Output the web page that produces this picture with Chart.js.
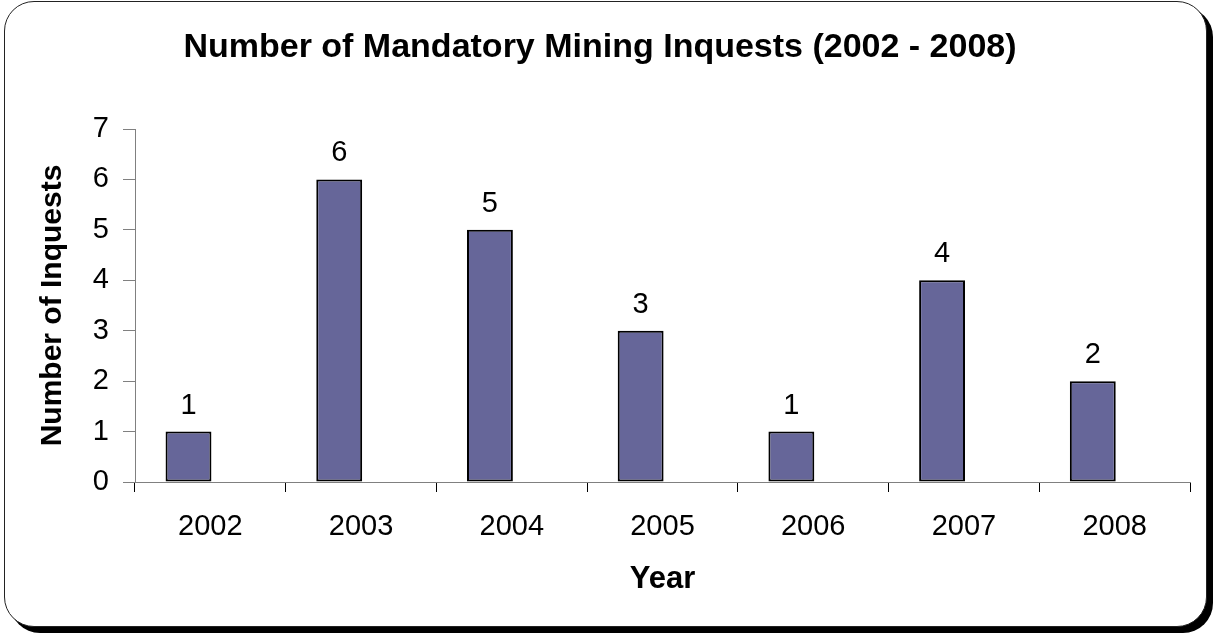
<!DOCTYPE html>
<html>
<head>
<meta charset="utf-8">
<script src="https://cdn.jsdelivr.net/npm/chart.js@4"></script>
<style>
  html, body { margin: 0; padding: 0; background: #fff; }
  #marco {
    position: absolute; left: 4px; top: 1px;
    width: 1201px; height: 624px;
    border: 1.5px solid #222; border-radius: 30px;
    box-shadow: 6px 6px 0 #000; background: #fff;
  }
  #caja { position: absolute; left: 0; top: 0; width: 1215px; height: 634px; }
</style>
</head>
<body>
<div id="marco"></div>
<div id="caja"><canvas id="grafica"></canvas></div>
<script>
// datos
const anios = ["2002", "2003", "2004", "2005", "2006", "2007", "2008"];
const inquests = [1, 6, 5, 3, 1, 4, 2];
const serieVacia = [null, null, null, null, null, null, null]; // hueco a la derecha de cada barra, como en Excel
const ticksY = [0, 1, 2, 3, 4, 5, 6, 7];

const fuente = "'Liberation Sans', Arial, sans-serif";

// numeros encima de cada barra
const etiquetas = {
  id: "etiquetas",
  afterDatasetsDraw(chart) {
    const ctx = chart.ctx;
    const meta = chart.getDatasetMeta(0);
    ctx.save();
    ctx.font = "29px " + fuente;
    ctx.fillStyle = "#000";
    ctx.textAlign = "center";
    ctx.textBaseline = "alphabetic";
    meta.data.forEach((barra, i) => {
      ctx.fillText(String(inquests[i]), barra.x, barra.y - 18);
    });
    ctx.restore();
  },
};

const ctx = document.getElementById("grafica").getContext("2d");
new Chart(ctx, {
  type: "bar",
  data: {
    labels: anios,
    datasets: [
      {
        data: inquests,
        backgroundColor: "#666699",
        borderColor: "#000",
        borderWidth: 2,
        borderSkipped: false,
        barPercentage: 1.05,
        categoryPercentage: 0.58,
      },
      {
        data: serieVacia,
        backgroundColor: "#993366",
        borderWidth: 0,
        barPercentage: 1.05,
        categoryPercentage: 0.58,
      },
    ],
  },
  options: {
    responsive: true,
    maintainAspectRatio: false,
    animation: false,
    layout: { padding: { left: 10, right: 25, top: 8, bottom: 10 } },
    plugins: {
      legend: { display: false },
      tooltip: { enabled: false },
      title: {
        display: true,
        text: "Number of Mandatory Mining Inquests (2002 - 2008)",
        color: "#000",
        font: { family: fuente, size: 34, weight: "bold" },
        padding: { top: 19.6, bottom: 60.6 },
      },
    },
    scales: {
      x: {
        offset: true,
        grid: { drawOnChartArea: false, drawTicks: true, tickLength: 10, color: "#000", offset: true },
        border: { color: "#808080", width: 1 },
        ticks: { color: "#000", padding: 18, font: { family: fuente, size: 29 } },
        title: {
          display: true,
          text: "Year",
          color: "#000",
          font: { family: fuente, size: 31, weight: "bold" },
          padding: { top: 0, bottom: 26 },
        },
        afterFit(scale) { scale.height = 634 - 482 - 10; },
      },
      y: {
        min: 0,
        max: 7,
        afterBuildTicks(scale) { scale.ticks = ticksY.map((v) => ({ value: v })); },
        grid: { drawOnChartArea: false, drawTicks: true, tickLength: 12, color: "#808080" },
        border: { color: "#808080", width: 1 },
        ticks: { color: "#000", padding: 14, font: { family: fuente, size: 29 } },
        title: {
          display: true,
          text: "Number of Inquests",
          color: "#000",
          font: { family: fuente, size: 30, weight: "bold" },
          padding: { top: 25, bottom: 0 },
        },
        afterFit(scale) { scale.width = 135 - 10; },
      },
    },
  },
  plugins: [etiquetas],
});
</script>
</body>
</html>
